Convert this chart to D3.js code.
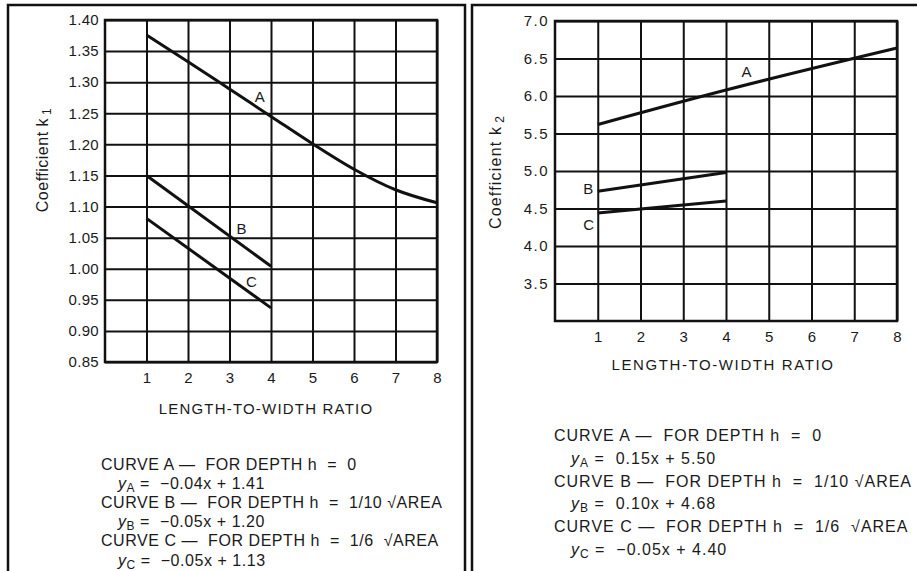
<!DOCTYPE html>
<html>
<head>
<meta charset="utf-8">
<script src="https://cdn.jsdelivr.net/npm/d3@7"></script>
<style>
  body { margin: 0; background: #fff; }
  text { font-family: "Liberation Sans", Arial, sans-serif; fill: #1a1a1a; }
</style>
</head>
<body>
<script>
let w = 917;
let h = 571;

// length-to-width ratio
let ratioTicks = [1, 2, 3, 4, 5, 6, 7, 8];
let ratioA1 = [1, 2, 3, 4, 5, 6, 7, 8];
let ratioBC = [1, 4];
let ratioA2 = [1, 4, 8];

// coefficient k1 (left chart)
let k1Ticks = [0.85, 0.90, 0.95, 1.00, 1.05, 1.10, 1.15, 1.20, 1.25, 1.30, 1.35, 1.40];
let k1A = [1.376, 1.333, 1.289, 1.245, 1.201, 1.160, 1.127, 1.106];
let k1B = [1.150, 1.004];
let k1C = [1.081, 0.937];

// coefficient k2 (right chart)
let k2Ticks = [3.5, 4.0, 4.5, 5.0, 5.5, 6.0, 6.5, 7.0];
let k2A = [5.62, 6.08, 6.64];
let k2B = [4.73, 4.98];
let k2C = [4.44, 4.60];

// legend texts
let curveNames = ["A", "B", "C"];
let depthTexts = ["0", "1/10 \u221AAREA", "1/6  \u221AAREA"];
let eqK1 = ["\u22120.04x + 1.41", "\u22120.05x + 1.20", "\u22120.05x + 1.13"];
let eqK2 = ["0.15x + 5.50", "0.10x + 4.68", "\u22120.05x + 4.40"];

let svg = d3.select("body")
            .append("svg")
            .attr("width", w)
            .attr("height", h);

// panel borders
svg.append("path")
   .attr("d", "M8,571V5H465V571")
   .attr("fill", "none")
   .attr("stroke", "#111")
   .attr("stroke-width", 2.5);
svg.append("path")
   .attr("d", "M472,571V5H917")
   .attr("fill", "none")
   .attr("stroke", "#111")
   .attr("stroke-width", 2.5);

function drawChart(opt) {
	let x = d3.scaleLinear().domain([0, 8]).range([opt.left, opt.right]);
	let y = d3.scaleLinear().domain(opt.yDomain).range([opt.bottom, opt.top]);
	let iw = opt.right - opt.left;
	let ih = opt.bottom - opt.top;

	//horizontal grid + y labels
	let gy = svg.append("g")
	            .attr("transform", "translate(" + opt.left + ",0)")
	            .call(d3.axisLeft(y)
	                    .tickValues(opt.yTicks)
	                    .tickSize(-iw)
	                    .tickPadding(6)
	                    .tickFormat(opt.fmt));
	gy.select(".domain").remove();
	gy.selectAll("line").attr("stroke", "#111").attr("stroke-width", 2);
	gy.selectAll("text")
	  .style("font-size", "15px")
	  .style("letter-spacing", opt.tickSpacing)
	  .attr("fill", "#1a1a1a");

	//vertical grid + x labels
	let gx = svg.append("g")
	            .attr("transform", "translate(0," + opt.bottom + ")")
	            .call(d3.axisBottom(x)
	                    .tickValues(ratioTicks)
	                    .tickSize(-ih)
	                    .tickPadding(10)
	                    .tickFormat(d3.format("d")));
	gx.select(".domain").remove();
	gx.selectAll("line").attr("stroke", "#111").attr("stroke-width", 2);
	gx.selectAll("text")
	  .style("font-size", "15px")
	  .attr("fill", "#1a1a1a");

	//frame
	svg.append("rect")
	   .attr("x", opt.left)
	   .attr("y", opt.top)
	   .attr("width", iw)
	   .attr("height", ih)
	   .attr("fill", "none")
	   .attr("stroke", "#111")
	   .attr("stroke-width", 2.5);

	//curves
	let line = d3.line()
	             .x(d => x(d[0]))
	             .y(d => y(d[1]))
	             .curve(d3.curveMonotoneX);
	opt.curves.forEach(c => {
		svg.append("path")
		   .datum(d3.zip(c.xs, c.ys))
		   .attr("d", line)
		   .attr("fill", "none")
		   .attr("stroke", "#111")
		   .attr("stroke-width", 3);
		svg.append("text")
		   .attr("x", x(c.lx))
		   .attr("y", y(c.ly))
		   .attr("dy", "0.35em")
		   .attr("text-anchor", "middle")
		   .style("font-size", "15px")
		   .text(c.name);
	});

	//y title
	let yt = svg.append("text")
	            .attr("transform", "translate(" + opt.yTitle[0] + "," + opt.yTitle[1] + ") rotate(-90)")
	            .attr("text-anchor", "middle")
	            .attr("dy", "0.35em")
	            .style("font-size", "16px")
	            .style("letter-spacing", opt.titleSpacing);
	yt.append("tspan").text("Coefficient k");
	yt.append("tspan")
	  .attr("dx", 3)
	  .attr("dy", 3)
	  .style("font-size", "12px")
	  .text(opt.sub);

	//x title
	svg.append("text")
	   .attr("x", opt.xTitle[0])
	   .attr("y", opt.xTitle[1])
	   .attr("dy", "0.35em")
	   .attr("text-anchor", "middle")
	   .style("font-size", "15px")
	   .style("letter-spacing", opt.xTitleSpacing)
	   .text("LENGTH-TO-WIDTH RATIO");

	//legend
	curveNames.forEach((n, i) => {
		svg.append("text")
		   .attr("x", opt.legX)
		   .attr("y", opt.legY + opt.legStep * 2 * i)
		   .attr("xml:space", "preserve")
		   .style("white-space", "pre")
		   .style("font-size", "16px")
		   .style("letter-spacing", opt.legSpacing)
		   .text("CURVE " + n + " \u2014  FOR DEPTH h  =  " + depthTexts[i]);
		let eq = svg.append("text")
		            .attr("x", opt.legX + 17)
		            .attr("y", opt.legY + opt.legStep * (2 * i + 1))
		            .attr("xml:space", "preserve")
		            .style("white-space", "pre")
		            .style("font-size", "16px")
		            .style("letter-spacing", opt.legSpacing);
		eq.append("tspan").style("font-style", "italic").text("y");
		eq.append("tspan")
		  .attr("dy", 3)
		  .style("font-size", "12px")
		  .text(n);
		eq.append("tspan")
		  .attr("dy", -3)
		  .text(" =  " + opt.eqs[i]);
	});
}

drawChart({
	left: 105, right: 437, top: 20, bottom: 362,
	yDomain: [0.85, 1.40], yTicks: k1Ticks, fmt: d3.format(".2f"),
	tickSpacing: "0.3px",
	curves: [
		{name: "A", xs: ratioA1, ys: k1A, lx: 3.73, ly: 1.277},
		{name: "B", xs: ratioBC, ys: k1B, lx: 3.29, ly: 1.065},
		{name: "C", xs: ratioBC, ys: k1C, lx: 3.53, ly: 0.979}
	],
	yTitle: [42, 160], sub: "1", titleSpacing: "0.5px",
	xTitle: [266, 409], xTitleSpacing: "1.2px",
	legX: 101, legY: 470, legStep: 19.1, legSpacing: "0.55px", eqs: eqK1
});

drawChart({
	left: 555, right: 897, top: 21, bottom: 321,
	yDomain: [3.0, 7.0], yTicks: k2Ticks, fmt: d3.format(".1f"),
	tickSpacing: "1.5px",
	curves: [
		{name: "A", xs: ratioA2, ys: k2A, lx: 4.48, ly: 6.32},
		{name: "B", xs: ratioBC, ys: k2B, lx: 0.78, ly: 4.77},
		{name: "C", xs: ratioBC, ys: k2C, lx: 0.79, ly: 4.28}
	],
	yTitle: [495, 172], sub: "2", titleSpacing: "1.2px",
	xTitle: [723, 365], xTitleSpacing: "1.6px",
	legX: 554, legY: 441, legStep: 22.8, legSpacing: "1px", eqs: eqK2
});
</script>
</body>
</html>
